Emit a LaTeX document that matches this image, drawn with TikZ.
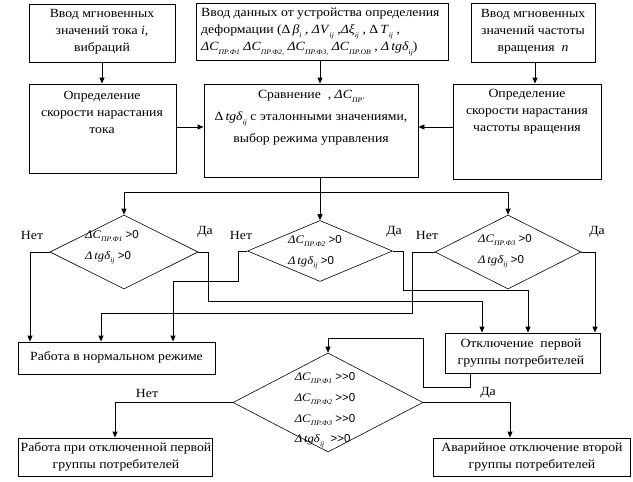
\documentclass[tikz,border=0pt]{standalone}
\usepackage{fontspec}
\setmainfont{Liberation Serif}
\newfontfamily\ser[FakeStretch=1.1]{Liberation Serif}
\newfontfamily\sfam{Liberation Sans}
\usetikzlibrary{arrows.meta,shapes.geometric}
\newcommand{\sbs}[1]{\raisebox{-0.6ex}{\fontsize{7}{7}\selectfont\itshape #1}}
\newcommand{\dC}[1]{\textit{ΔC}\sbs{#1}}
\newcommand{\dtg}{\textit{Δ\,tgδ}\sbs{ij}}
\begin{document}
\begin{tikzpicture}[x=1pt,y=-1pt,
  box/.style={draw, line width=0.9pt, inner sep=0pt},
  dia/.style={draw, diamond, line width=0.6pt, inner sep=0pt},
  txt/.style={align=center, inner sep=0pt, font=\ser\fontsize{12.5}{17}\selectfont},
  dtxt/.style={align=left, inner sep=0pt, font=\ser\fontsize{11.5}{21}\selectfont},
  lbl/.style={inner sep=0pt, font=\ser\fontsize{12.5}{14}\selectfont},
  con/.style={line width=0.9pt},
  arr/.style={con, -{Triangle[length=6pt,width=5pt]}}]
\fill[white] (0,0) rectangle (633,482);
\useasboundingbox (0,0) rectangle (633,482);

% boxes
\node[box, minimum width=146pt, minimum height=58pt] (A) at (102,33) {};
\node[box, minimum width=252pt, minimum height=57pt] (B) at (322,31.5) {};
\node[box, minimum width=124pt, minimum height=59pt] (C) at (533,32.5) {};
\node[box, minimum width=147pt, minimum height=89pt] (D) at (102.5,128.5) {};
\node[box, minimum width=214pt, minimum height=93pt] (E) at (311,130.5) {};
\node[box, minimum width=148pt, minimum height=95pt] (F) at (527,131.5) {};
\node[box, minimum width=197pt, minimum height=32pt] (N) at (116.5,358) {};
\node[box, minimum width=155pt, minimum height=40pt] (O) at (522.5,353) {};
\node[box, minimum width=194pt, minimum height=38pt] (P) at (115,457) {};
\node[box, minimum width=197pt, minimum height=38pt] (Q) at (531.5,457) {};

% diamonds
\node[dia, minimum width=148pt, minimum height=74pt] (D1) at (124,252) {};
\node[dia, minimum width=145pt, minimum height=61pt] (D2) at (320,251) {};
\node[dia, minimum width=146pt, minimum height=74pt] (D3) at (508,252) {};
\node[dia, minimum width=190pt, minimum height=99pt] (BD) at (328,402.5) {};

% texts
\node[txt] (tA) at (102,32) {Ввод мгновенных\\значений тока \textit{i},\\вибраций};
\node[txt, align=left, anchor=west] (tB) at (201,32) {Ввод данных от устройства определения\\деформации (Δ\,\textit{β}\sbs{i} , \textit{ΔV}\sbs{ij} ,\textit{Δξ}\sbs{ij} , Δ\,\textit{T}\sbs{ij} ,\\\dC{ПР.Ф1} \dC{ПР.Ф2,} \dC{ПР.Ф3,} \dC{ПР.ОВ} , \dtg)};
\node[txt] (tC) at (533,32) {Ввод мгновенных\\значений частоты\\вращения \ \textit{n}};
\node[txt] (tD) at (102,112) {Определение\\скорости нарастания\\тока};
\node[txt, font=\ser\fontsize{12.5}{22}\selectfont] (tE) at (311,118) {Сравнение \ , \dC{ПР'}\\Δ\,\textit{tgδ}\sbs{ij} с эталонными значениями,\\выбор режима управления};
\node[txt] (tF) at (527,112) {Определение\\скорости нарастания\\частоты вращения};
\node[txt] (tN) at (116.5,357) {Работа в нормальном режиме};
\node[txt] (tO) at (521,353) {Отключение \ первой\\группы потребителей};
\node[txt] (tP) at (116,457) {Работа при отключенной первой\\группы потребителей};
\node[txt] (tQ) at (532,457) {Аварийное отключение второй\\группы потребителей};

\node[dtxt] (t1) at (112,247) {\dC{ПР.Ф1} {\sfam >0}\\\dtg\ {\sfam >0}};
\node[dtxt] (t2) at (315,252) {\dC{ПР.Ф2} {\sfam >0}\\\dtg\ {\sfam >0}};
\node[dtxt] (t3) at (505,251) {\dC{ПР.Ф3} {\sfam >0}\\\dtg\ {\sfam >0}};
\node[dtxt, font=\ser\fontsize{11.5}{20.8}\selectfont] (t4) at (325,410) {\dC{ПР.Ф1} {\sfam >>0}\\\dC{ПР.Ф2} {\sfam >>0}\\\dC{ПР.Ф3} {\sfam >>0}\\\dtg\ \ {\sfam >>0}};

% labels
\node[lbl] (l1) at (32,235) {Нет};
\node[lbl] (l2) at (205,232) {Да};
\node[lbl] (l3) at (241,235) {Нет};
\node[lbl] (l4) at (394,232) {Да};
\node[lbl] (l5) at (427,235) {Нет};
\node[lbl] (l6) at (597,232) {Да};
\node[lbl] (l7) at (147,393) {Нет};
\node[lbl] (l8) at (488,393) {Да};

% helper coordinates
\coordinate (sp) at (320,192);
\coordinate (cx) at (535,0);
\coordinate (ry) at (0,127);
\coordinate (n1) at (30,0);
\coordinate (n2) at (101,0);
\coordinate (n3) at (173,0);
\coordinate (o1) at (482,0);
\coordinate (o2) at (528,0);
\coordinate (o3) at (595,0);
\coordinate (o4) at (470,0);
\coordinate (q1) at (510,0);
\coordinate (j1) at (208,301);
\coordinate (j2) at (238,281);
\coordinate (j3) at (403,290);
\coordinate (j4) at (412,313);
\coordinate (k1) at (423,387);
\coordinate (k2) at (423,338);

% connectors
\draw[arr] (A.south) -- (A.south |- D.north);
\draw[arr] (B.south -| sp) -- (E.north -| sp);
\draw[arr] (C.south -| cx) -- (F.north -| cx);
\draw[arr] (D.east |- ry) -- (E.west |- ry);
\draw[arr] (F.west |- ry) -- (E.east |- ry);
\draw[con] (E.south -| sp) -- (sp);
\draw[arr] (sp) -| (D1.north);
\draw[arr] (sp) -| (D3.north);
\draw[arr] (sp) -- (D2.north);

\draw[arr] (D1.west) -| (N.north -| n1);
\draw[arr] (D1.east) -| (j1) -| (O.north -| o1);
\draw[arr] (D2.west) -| (j2) -| (N.north -| n3);
\draw[arr] (D2.east) -| (j3) -| (O.north -| o2);
\draw[arr] (D3.west) -| (j4) -| (N.north -| n2);
\draw[arr] (D3.east) -| (O.north -| o3);

\draw[arr] (O.south -| o4) |- (k1) -- (k2) -| (BD.north);
\draw[arr] (BD.west) -| (P.north);
\draw[arr] (BD.east) -| (Q.north -| q1);
\end{tikzpicture}
\end{document}
